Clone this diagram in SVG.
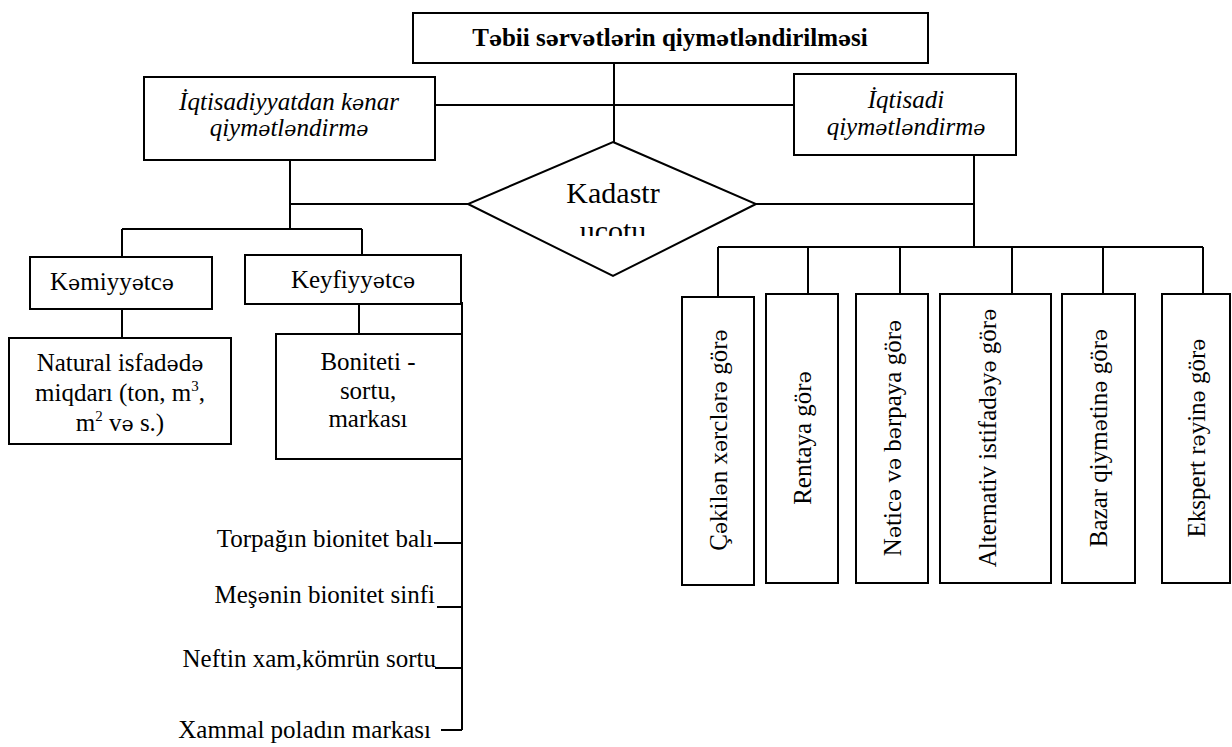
<svg xmlns="http://www.w3.org/2000/svg" width="1232" height="747" viewBox="0 0 1232 747">
<style>
  .box{fill:#fff;stroke:#000;stroke-width:2}
  .ln{fill:none;stroke:#000;stroke-width:2}
  text{font-family:"Liberation Serif","Times New Roman","DejaVu Serif",serif;font-size:25px;fill:#000}
  .s{font-family:"DejaVu Serif","Liberation Serif",serif;font-size:0.82em}
  .c{text-anchor:middle}
  .e{text-anchor:end}
  .it{font-style:italic}
  .b{font-weight:bold}
  .sup{font-size:15px}
</style>
<defs>
  <clipPath id="kclip"><rect x="460" y="140" width="300" height="96"/></clipPath>
</defs>
<rect width="1232" height="747" fill="#fff"/>

<g id="connectors">
  <path class="ln" d="M614 63V142"/>
  <path class="ln" d="M435 105H794"/>
  <path class="ln" d="M290 160V229"/>
  <path class="ln" d="M290 204H468"/>
  <path class="ln" d="M122 229H362"/>
  <path class="ln" d="M122 229V257"/>
  <path class="ln" d="M362 229V255"/>
  <path class="ln" d="M122 309V338"/>
  <path class="ln" d="M359 304V334"/>
  <path class="ln" d="M462 302V730"/>
  <path class="ln" d="M434 543H462"/>
  <path class="ln" d="M437 607H462"/>
  <path class="ln" d="M435 668H462"/>
  <path class="ln" d="M441 730H462"/>
  <path class="ln" d="M756 204H974"/>
  <path class="ln" d="M974 150V247"/>
  <path class="ln" d="M718 247H1203"/>
  <path class="ln" d="M718 247V297"/>
  <path class="ln" d="M808 247V294"/>
  <path class="ln" d="M900 247V294"/>
  <path class="ln" d="M1012 247V294"/>
  <path class="ln" d="M1103 247V294"/>
  <path class="ln" d="M1203 247V294"/>
</g>

<g id="n-title">
  <rect class="box" x="413" y="13" width="515" height="50"/>
  <text class="c b" x="670" y="46">T<tspan class="s">ə</tspan>bii s<tspan class="s">ə</tspan>rv<tspan class="s">ə</tspan>tl<tspan class="s">ə</tspan>rin qiym<tspan class="s">ə</tspan>tl<tspan class="s">ə</tspan>ndirilm<tspan class="s">ə</tspan>si</text>
</g>

<g id="n-noneco">
  <rect class="box" x="144" y="77" width="291" height="83"/>
  <text class="c it" x="289" y="110">İqtisadiyyatdan k<tspan class="s">ə</tspan>nar</text>
  <text class="c it" x="289" y="136">qiym<tspan class="s">ə</tspan>tl<tspan class="s">ə</tspan>ndirm<tspan class="s">ə</tspan></text>
</g>

<g id="n-eco">
  <rect class="box" x="794" y="74" width="222" height="81"/>
  <text class="c it" x="906" y="108">İqtisadi</text>
  <text class="c it" x="906" y="135">qiym<tspan class="s">ə</tspan>tl<tspan class="s">ə</tspan>ndirm<tspan class="s">ə</tspan></text>
</g>

<g id="n-kadastr">
  <polygon class="box" points="613,142 756,204 613,276 468,204"/>
  <text class="c" x="613" y="203" style="font-size:30px">Kadastr</text>
  <text class="c" x="613" y="241" style="font-size:30px" clip-path="url(#kclip)">ucotu</text>
</g>

<g id="n-kemiyyet">
  <rect class="box" x="30" y="257" width="182" height="52"/>
  <text class="c" x="112" y="290">K<tspan class="s">ə</tspan>miyy<tspan class="s">ə</tspan>tc<tspan class="s">ə</tspan></text>
</g>

<g id="n-keyfiyyet">
  <rect class="box" x="245" y="255" width="216" height="49"/>
  <text class="c" x="353" y="288">Keyfiyy<tspan class="s">ə</tspan>tc<tspan class="s">ə</tspan></text>
</g>

<g id="n-natural">
  <rect class="box" x="9" y="338" width="222" height="106"/>
  <text class="c" x="120" y="371">Natural isfad<tspan class="s">ə</tspan>d<tspan class="s">ə</tspan></text>
  <text class="c" x="120" y="401">miqdarı (ton, m<tspan class="sup" dy="-10">3</tspan><tspan dy="10">,</tspan></text>
  <text class="c" x="120" y="431">m<tspan class="sup" dy="-10">2</tspan><tspan dy="10"> v</tspan><tspan class="s">ə</tspan> s.)</text>
</g>

<g id="n-boniteti">
  <rect class="box" x="276" y="334" width="186" height="125"/>
  <text class="c" x="368" y="370">Boniteti -</text>
  <text class="c" x="368" y="399">sortu,</text>
  <text class="c" x="368" y="427">markası</text>
</g>

<g id="n-list">
  <text class="e" x="433" y="547">Torpağın bionitet balı</text>
  <text class="e" x="435" y="603">Meş<tspan class="s">ə</tspan>nin bionitet sinfi</text>
  <text class="e" x="436" y="667">Neftin xam,kömrün sortu</text>
  <text class="e" x="431" y="738">Xammal poladın markası</text>
</g>

<g id="n-v1">
  <rect class="box" x="682" y="297" width="72" height="288"/>
  <text class="c" transform="translate(718,440) rotate(-90)" y="9">Ç<tspan class="s">ə</tspan>kil<tspan class="s">ə</tspan>n x<tspan class="s">ə</tspan>rcl<tspan class="s">ə</tspan>r<tspan class="s">ə</tspan> gör<tspan class="s">ə</tspan></text>
</g>
<g id="n-v2">
  <rect class="box" x="766" y="294" width="72" height="289"/>
  <text class="c" transform="translate(802,438) rotate(-90)" y="9">Rentaya gör<tspan class="s">ə</tspan></text>
</g>
<g id="n-v3">
  <rect class="box" x="856" y="294" width="72" height="289"/>
  <text class="c" transform="translate(892,438) rotate(-90)" y="9">N<tspan class="s">ə</tspan>tic<tspan class="s">ə</tspan> v<tspan class="s">ə</tspan> b<tspan class="s">ə</tspan>rpaya gör<tspan class="s">ə</tspan></text>
</g>
<g id="n-v4">
  <rect class="box" x="940" y="294" width="111" height="289"/>
  <text class="c" transform="translate(987,438) rotate(-90)" y="9">Alternativ istifad<tspan class="s">ə</tspan>y<tspan class="s">ə</tspan> gör<tspan class="s">ə</tspan></text>
</g>
<g id="n-v5">
  <rect class="box" x="1062" y="294" width="73" height="289"/>
  <text class="c" transform="translate(1098,438) rotate(-90)" y="9">Bazar qiym<tspan class="s">ə</tspan>tin<tspan class="s">ə</tspan> gör<tspan class="s">ə</tspan></text>
</g>
<g id="n-v6">
  <rect class="box" x="1162" y="294" width="68" height="289"/>
  <text class="c" transform="translate(1196,438) rotate(-90)" y="9">Ekspert r<tspan class="s">ə</tspan>yin<tspan class="s">ə</tspan> gör<tspan class="s">ə</tspan></text>
</g>
</svg>
